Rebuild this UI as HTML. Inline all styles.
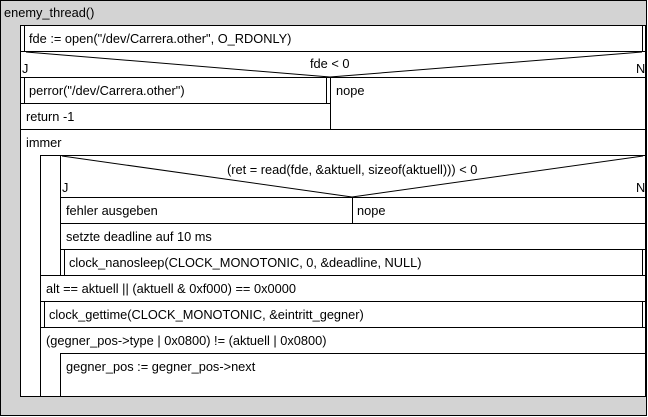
<!DOCTYPE html>
<html><head><meta charset="utf-8"><style>
html,body{margin:0;padding:0;background:#fff}
svg{display:block}
text{font-family:"Liberation Sans",Arial,sans-serif;font-size:12.8px;fill:#000}
</style></head><body>
<svg width="648" height="417" viewBox="0 0 648 417" xmlns="http://www.w3.org/2000/svg" shape-rendering="crispEdges">
<rect x="0.5" y="0.5" width="646" height="415" fill="#d3d3d3" stroke="#000"/>
<text x="4" y="17">enemy_thread()</text>
<rect x="20.5" y="25.5" width="625" height="371" fill="#fff" stroke="#000"/>
<g stroke="#000" fill="none">
<line x1="24.5" y1="25" x2="24.5" y2="51"/>
<line x1="642.5" y1="25" x2="642.5" y2="51"/>
<line x1="20" y1="51.5" x2="646" y2="51.5"/>
<line x1="26" y1="52" x2="330" y2="77" shape-rendering="auto"/>
<line x1="642" y1="52" x2="330" y2="77" shape-rendering="auto"/>
<line x1="20" y1="77.5" x2="646" y2="77.5"/>
<line x1="330.5" y1="77" x2="330.5" y2="129"/>
<line x1="24.5" y1="77" x2="24.5" y2="103"/>
<line x1="326.5" y1="77" x2="326.5" y2="103"/>
<line x1="20" y1="103.5" x2="330" y2="103.5"/>
<line x1="20" y1="129.5" x2="646" y2="129.5"/>
<line x1="40.5" y1="155" x2="40.5" y2="396"/>
<line x1="40" y1="155.5" x2="646" y2="155.5"/>
<line x1="60.5" y1="155" x2="60.5" y2="275"/>
<line x1="62" y1="156" x2="352" y2="197" shape-rendering="auto"/>
<line x1="643" y1="156" x2="352" y2="197" shape-rendering="auto"/>
<line x1="60" y1="197.5" x2="646" y2="197.5"/>
<line x1="352.5" y1="197" x2="352.5" y2="223"/>
<line x1="60" y1="223.5" x2="646" y2="223.5"/>
<line x1="60" y1="249.5" x2="646" y2="249.5"/>
<line x1="64.5" y1="249" x2="64.5" y2="275"/>
<line x1="642.5" y1="249" x2="642.5" y2="275"/>
<line x1="40" y1="275.5" x2="646" y2="275.5"/>
<line x1="40" y1="301.5" x2="646" y2="301.5"/>
<line x1="44.5" y1="301" x2="44.5" y2="327"/>
<line x1="642.5" y1="301" x2="642.5" y2="327"/>
<line x1="40" y1="327.5" x2="646" y2="327.5"/>
<line x1="60" y1="353.5" x2="646" y2="353.5"/>
<line x1="60.5" y1="353" x2="60.5" y2="396"/>
</g>
<text x="29" y="43">fde := open("/dev/Carrera.other", O_RDONLY)</text>
<text x="22" y="73">J</text>
<text x="636" y="73">N</text>
<text x="310" y="68">fde &lt; 0</text>
<text x="29" y="95">perror("/dev/Carrera.other")</text>
<text x="336" y="95">nope</text>
<text x="26" y="121">return -1</text>
<text x="26" y="147">immer</text>
<text x="227" y="174">(ret = read(fde, &amp;aktuell, sizeof(aktuell))) &lt; 0</text>
<text x="62" y="192">J</text>
<text x="636" y="192">N</text>
<text x="66" y="215">fehler ausgeben</text>
<text x="357" y="215">nope</text>
<text x="66" y="241">setzte deadline auf 10 ms</text>
<text x="69" y="267">clock_nanosleep(CLOCK_MONOTONIC, 0, &amp;deadline, NULL)</text>
<text x="46" y="293">alt == aktuell || (aktuell &amp; 0xf000) == 0x0000</text>
<text x="49" y="319">clock_gettime(CLOCK_MONOTONIC, &amp;eintritt_gegner)</text>
<text x="46" y="345">(gegner_pos-&gt;type | 0x0800) != (aktuell | 0x0800)</text>
<text x="66" y="371">gegner_pos := gegner_pos-&gt;next</text>
</svg>
</body></html>
